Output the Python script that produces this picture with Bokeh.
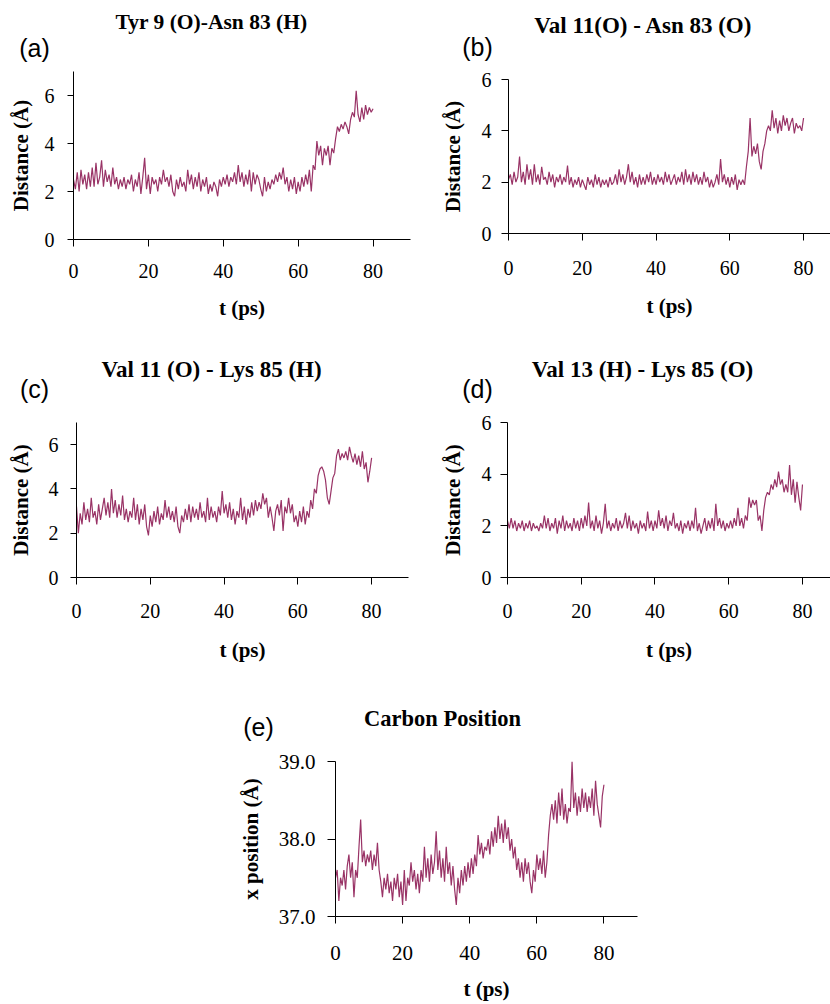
from bokeh.plotting import figure
from bokeh.layouts import column, row
from bokeh.models import Range1d, FixedTicker, Label, NumeralTickFormatter
from bokeh.embed import file_html
from bokeh.resources import INLINE

# time axis (ps), sampled every 0.5 ps
T = [round(0.5 * i, 1) for i in range(161)]

tyr9_asn83 = [
    2.5, 2.1, 2.8, 2.0, 2.9, 2.3, 2.7, 2.1, 2.8, 2.2, 3.0, 2.2, 3.2, 2.3, 2.6, 3.3, 2.2, 2.9, 2.4, 2.7, 2.2,
    3.0, 2.3, 2.6, 2.1, 2.5, 2.2, 2.6, 2.1, 2.5, 2.3, 2.7, 2.0, 2.5, 2.2, 2.8, 1.9, 2.6, 3.4, 2.1, 2.7,
    1.9, 2.6, 2.3, 2.5, 2.0, 2.6, 2.3, 2.9, 2.4, 2.6, 2.2, 2.7, 2.0, 1.8, 2.5, 2.1, 2.6, 2.2, 2.4, 2.0,
    2.9, 2.3, 2.7, 2.1, 2.6, 2.2, 2.8, 2.0, 2.5, 2.2, 2.6, 1.9, 2.3, 2.0, 2.4, 2.2, 1.8, 2.5, 2.2, 2.6,
    2.3, 2.7, 2.2, 2.6, 2.4, 2.8, 2.3, 3.1, 2.4, 2.8, 2.2, 2.7, 2.3, 2.9, 2.0, 2.8, 2.3, 2.7, 2.5, 2.1,
    1.8, 2.6, 2.0, 2.4, 2.1, 2.5, 2.3, 2.7, 2.4, 2.8, 2.5, 3.0, 2.3, 2.6, 2.0, 2.5, 2.1, 2.6, 1.9, 2.4,
    2.0, 2.6, 2.2, 2.7, 2.3, 2.9, 2.0, 3.1, 2.9, 4.1, 3.5, 3.9, 3.1, 3.8, 3.5, 3.9, 3.1, 3.8, 3.6, 4.2,
    4.7, 4.5, 4.8, 4.6, 4.9, 4.7, 4.4, 5.0, 5.3, 5.1, 6.2, 5.2, 4.9, 5.5, 5.0, 5.6, 5.2, 5.5, 5.3, 5.45,
]

val11_asn83 = [
    2.1, 2.3, 1.9, 2.4, 2.0, 2.2, 3.0, 2.0, 2.4, 1.9, 2.7, 2.1, 2.5, 1.9, 2.7, 2.0, 2.3, 1.9, 2.6, 2.1, 2.2,
    1.9, 2.4, 2.0, 2.3, 1.8, 2.2, 2.0, 2.3, 1.9, 2.2, 2.0, 2.65, 1.9, 2.2, 1.8, 2.1, 1.9, 2.2, 1.8, 2.1,
    1.9, 1.7, 2.2, 1.9, 2.1, 1.8, 2.3, 1.9, 2.2, 1.8, 2.1, 1.9, 2.1, 1.8, 2.2, 1.9, 2.0, 2.3, 1.9, 2.5,
    2.0, 2.3, 1.9, 2.2, 2.7, 2.0, 2.4, 1.9, 2.2, 1.8, 2.3, 1.9, 2.2, 1.9, 2.3, 2.0, 2.4, 1.9, 2.2, 1.9,
    2.3, 2.0, 2.2, 1.9, 2.4, 2.0, 2.3, 1.9, 2.1, 2.3, 1.9, 2.2, 2.0, 2.4, 1.9, 2.5, 2.0, 2.3, 1.9, 2.4,
    2.0, 2.3, 1.9, 2.2, 1.9, 2.4, 2.0, 2.2, 1.8, 2.1, 1.8, 2.0, 2.3, 1.9, 2.9, 2.0, 2.3, 1.9, 2.2, 1.8,
    2.2, 1.9, 2.3, 1.7, 2.1, 1.9, 2.1, 1.9, 2.6, 3.2, 4.5, 3.0, 3.4, 3.1, 3.5, 2.8, 2.5, 3.2, 3.5, 4.0,
    4.2, 4.0, 4.8, 4.1, 4.5, 3.9, 4.4, 4.0, 4.6, 4.2, 4.5, 4.0, 4.3, 4.5, 3.9, 4.3, 4.1, 4.2, 4.0, 4.5,
]

val11_lys85 = [
    3.2, 2.0, 2.9, 2.4, 3.4, 2.6, 3.1, 2.5, 3.6, 2.7, 3.0, 2.4, 3.3, 2.6, 3.1, 3.6, 2.8, 3.4, 2.7, 4.0, 2.9,
    3.5, 2.7, 3.3, 2.8, 3.7, 2.6, 3.1, 2.5, 3.0, 2.7, 3.6, 2.6, 3.3, 2.4, 3.1, 2.6, 3.3, 2.3, 1.9, 2.8,
    2.3, 3.0, 2.5, 3.2, 2.4, 2.9, 2.6, 3.5, 2.7, 3.2, 2.6, 3.0, 2.5, 3.2, 2.3, 2.0, 2.8, 2.5, 3.1, 2.6,
    3.3, 2.5, 3.2, 2.7, 3.1, 2.6, 3.4, 2.7, 3.0, 2.5, 3.6, 2.6, 3.2, 2.7, 3.0, 2.5, 3.2, 2.8, 3.9, 2.9,
    3.3, 2.7, 3.4, 2.6, 3.1, 2.4, 3.0, 2.7, 3.6, 2.6, 3.2, 2.4, 3.1, 2.7, 3.4, 2.8, 3.5, 3.0, 3.4, 3.1,
    3.8, 3.3, 3.6, 2.7, 3.2, 2.7, 2.1, 3.0, 3.3, 2.8, 3.5, 2.1, 3.2, 2.9, 3.6, 2.9, 3.3, 2.5, 2.8, 2.3,
    3.0, 2.5, 3.2, 2.4, 3.0, 2.7, 3.5, 3.1, 4.0, 3.8, 4.6, 4.9, 5.0, 4.8, 4.4, 3.6, 3.3, 3.9, 4.5, 4.7,
    5.5, 5.8, 5.3, 5.6, 5.4, 5.7, 5.3, 5.9, 5.5, 5.2, 5.6, 5.1, 5.5, 5.0, 5.7, 4.9, 5.2, 4.3, 4.8, 5.4,
]

val13_lys85 = [
    2.2, 1.9, 2.3, 1.9, 2.2, 1.8, 2.1, 1.9, 2.2, 1.8, 2.1, 1.9, 2.2, 1.8, 2.1, 1.9, 2.0, 1.8, 2.1, 1.9, 2.4,
    1.9, 2.3, 1.8, 2.1, 1.9, 2.3, 1.7, 2.2, 1.9, 2.4, 1.8, 2.2, 1.9, 2.1, 1.8, 2.3, 1.9, 2.2, 1.8, 2.3,
    1.9, 2.4, 2.0, 2.9, 1.9, 2.2, 1.8, 2.4, 1.9, 2.2, 1.7, 2.1, 2.85, 1.9, 2.2, 1.8, 2.1, 1.9, 2.3, 1.8,
    2.2, 1.9, 2.1, 2.5, 1.9, 2.4, 1.8, 2.2, 1.9, 2.1, 1.7, 2.2, 1.9, 2.1, 1.8, 2.55, 1.9, 2.2, 1.8, 2.2,
    1.9, 2.6, 2.0, 2.3, 1.9, 2.4, 1.8, 2.2, 2.0, 2.5, 1.9, 2.1, 1.8, 2.2, 1.7, 2.1, 1.9, 2.2, 1.8, 2.2,
    1.9, 2.7, 1.8, 2.1, 1.7, 2.0, 2.3, 1.8, 2.2, 1.9, 2.3, 1.8, 2.85, 2.0, 2.3, 1.9, 2.2, 1.8, 2.1, 1.9,
    2.2, 1.9, 2.3, 2.0, 2.7, 2.0, 2.3, 1.9, 2.4, 2.2, 3.1, 2.7, 3.0, 2.8, 3.0, 2.2, 2.4, 1.8, 2.6, 3.1,
    3.3, 3.2, 3.6, 3.4, 3.8, 3.5, 4.1, 3.6, 3.8, 3.3, 3.6, 3.3, 4.35, 3.2, 3.8, 2.9, 3.7, 3.1, 2.6, 3.6,
]

carbon_x = [
    37.5, 37.6, 37.2, 37.5, 37.4, 37.6, 37.35, 37.65, 37.8, 37.5, 37.7, 37.25, 37.6, 37.5, 37.9, 38.25, 37.7, 37.85, 37.65, 37.8, 37.7,
    37.85, 37.6, 37.8, 37.65, 37.95, 37.6, 37.45, 37.25, 37.5, 37.35, 37.55, 37.3, 37.45, 37.2, 37.5, 37.35, 37.55, 37.25, 37.45, 37.15,
    37.6, 37.2, 37.5, 37.4, 37.7, 37.45, 37.6, 37.35, 37.55, 37.3, 37.6, 37.45, 37.9, 37.5, 37.75, 37.45, 37.8, 37.55, 37.7, 38.1,
    37.6, 37.85, 37.5, 37.75, 37.45, 37.9, 37.55, 37.7, 37.4, 37.65, 37.35, 37.15, 37.5, 37.3, 37.6, 37.4, 37.65, 37.45, 37.7, 37.5,
    37.75, 37.55, 37.8, 37.65, 38.05, 37.8, 37.95, 37.75, 37.9, 37.85, 38.0, 37.8, 38.1, 37.9, 38.15, 37.95, 38.3, 38.0, 38.2, 37.95,
    38.25, 38.0, 38.15, 37.85, 38.0, 37.75, 37.9, 37.6, 37.75, 37.5, 37.7, 37.45, 37.75, 37.55, 37.7, 37.45, 37.3, 37.6, 37.45, 37.8,
    37.6, 37.75, 37.55, 37.85, 37.5, 37.7, 38.05, 38.3, 38.45, 38.25, 38.5, 38.2, 38.6, 38.3, 38.65, 38.25, 38.45, 38.2, 38.4, 38.35,
    39.0, 38.4, 38.6, 38.3, 38.55, 38.35, 38.65, 38.4, 38.6, 38.35, 38.55, 38.4, 38.65, 38.3, 38.75, 38.45, 38.3, 38.15, 38.55, 38.7,
]

titles = ["Tyr 9 (O)-Asn 83 (H)", "Val 11(O) - Asn 83 (O)", "Val 11 (O) - Lys 85 (H)",
          "Val 13 (H) - Lys 85 (O)", "Carbon Position"]
tags = ["(a)", "(b)", "(c)", "(d)", "(e)"]
x_label = "t (ps)"
y_labels = ["Distance (Å)"] * 4 + ["x position (Å)"]
x_ticks = [0, 20, 40, 60, 80]
dist_ticks = [0, 2, 4, 6]
pos_ticks = [37, 38, 39]

LINE = "#993366"
SERIF = "Liberation Serif"
SANS = "Liberation Sans"


def base(ys, ylab, yticks, ystart, yend, xend, W, H, L, R, Tp, B,
         ytick_out, ystand, ylstand, xstand, xlstand, tick_size="20px", fmt=None):
    p = figure(width=W, height=H, output_backend="svg", toolbar_location=None,
               x_range=Range1d(0, xend), y_range=Range1d(ystart, yend),
               min_border_left=L, min_border_right=R, min_border_top=Tp, min_border_bottom=B)
    p.outline_line_color = None
    p.background_fill_color = "white"
    p.border_fill_color = "white"
    p.xgrid.visible = False
    p.ygrid.visible = False
    p.line(T, ys, line_color=LINE, line_width=1.2)
    for ax in (p.xaxis[0], p.yaxis[0]):
        ax.axis_line_color = "black"
        ax.axis_line_width = 1
        ax.major_tick_line_color = "black"
        ax.major_tick_in = 0
        ax.minor_tick_line_color = None
        ax.major_label_text_font = SERIF
        ax.major_label_text_font_size = tick_size
        ax.major_label_text_color = "black"
        ax.axis_label_text_font = SERIF
        ax.axis_label_text_font_style = "bold"
        ax.axis_label_text_font_size = "21px"
        ax.axis_label_text_color = "black"
    xa = p.xaxis[0]
    xa.ticker = FixedTicker(ticks=x_ticks)
    xa.major_tick_out = 7
    xa.major_label_standoff = xstand
    xa.axis_label = x_label
    xa.axis_label_standoff = xlstand
    ya = p.yaxis[0]
    ya.ticker = FixedTicker(ticks=yticks)
    ya.major_tick_out = ytick_out
    ya.major_label_standoff = ystand
    ya.axis_label = ylab
    ya.axis_label_standoff = ylstand
    if fmt:
        ya.formatter = NumeralTickFormatter(format=fmt)
    return p


def add_titles(p, title, tag, title_size, title_x, title_y, tag_x, tag_y):
    # panel tag (closest to the frame), then the bold title, both in the top side panel
    p.add_layout(Label(x=tag_x, y=tag_y, x_units="screen", y_units="screen", text=tag,
                       text_font=SANS, text_font_size="25px", text_align="center",
                       text_baseline="alphabetic", text_color="black"), "above")
    p.add_layout(Label(x=title_x, y=title_y, x_units="screen", y_units="screen", text=title,
                       text_font=SERIF, text_font_size=title_size, text_font_style="bold",
                       text_align="center", text_baseline="alphabetic", text_color="black"), "above")


pa = base(tyr9_asn83, y_labels[0], dist_ticks, 0, 7, 90, 415, 335, 73, 5, 71, 96, 6, 13, 9, 17, 15)
add_titles(pa, titles[0], tags[0], "21.5px", 138, 21.5, -39, 24)
pb = base(val11_asn83, y_labels[1], dist_ticks, 0, 6, 87.3, 415, 335, 93, 0, 79, 102, 7, 10, 14, 20, 16)
add_titles(pb, titles[1], tags[1], "23px", 135, 26, -31, 33)
pc = base(val11_lys85, y_labels[2], dist_ticks, 0, 7, 90, 415, 355, 76, 7, 87, 113, 6, 12, 13, 19, 17)
add_titles(pc, titles[2], tags[2], "23px", 135, 25, -42, 33.5)
pd = base(val13_lys85, y_labels[3], dist_ticks, 0, 6, 87.6, 415, 355, 92, 0, 87, 113, 7, 9, 14, 19, 17)
add_titles(pd, titles[3], tags[3], "23px", 135, 25, -30, 33.5)
pe = base(carbon_x, y_labels[4], pos_ticks, 37, 39, 90, 830, 314, 335, 193, 71, 88, 8, 12, 13, 22, 14,
          tick_size="21px", fmt="0.0")
add_titles(pe, titles[4], tags[4], "22.5px", 107, 15, -77, 35)

layout = column(row(column(pa), column(pb)), row(column(pc), column(pd)), pe)
open("out.html", "w").write(file_html(layout, INLINE))
